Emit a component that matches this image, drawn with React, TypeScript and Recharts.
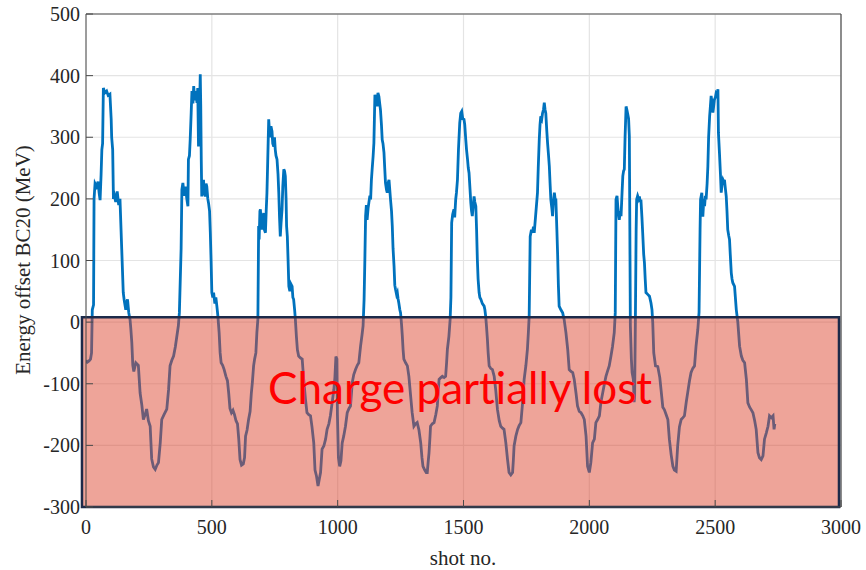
import { CartesianGrid, Line, LineChart, ReferenceArea, ReferenceLine, XAxis, YAxis } from "recharts";

// [shot no., energy offset (MeV)], one array per oscillation
const cycle1: [number, number][] = [
  [0, -62], [5, -65], [12, -63], [18, -60], [22, -50], [25, 20], [30, 28], [32, 200], [36, 225], [42, 220],
  [48, 228], [52, 210], [56, 198], [60, 240], [63, 280], [66, 290], [69, 380], [75, 372], [82, 375], [88, 368],
  [95, 370], [100, 330], [102, 300], [106, 280], [109, 200], [113, 205], [118, 195], [124, 212], [130, 190],
  [135, 200], [142, 118], [148, 48], [152, 35], [158, 20], [165, 37], [170, 15], [175, 4], [178, -10],
  [182, -33], [186, -70], [190, -80], [198, -66], [208, -70], [215, -115], [222, -135], [228, -158],
  [235, -150], [241, -141], [248, -160], [255, -169], [261, -222], [268, -235], [275, -239], [282, -232],
  [288, -228], [295, -196], [301, -158], [310, -150], [321, -141], [328, -110], [334, -71], [341, -62],
  [348, -55], [355, -40], [362, -20], [367, -6], [371, 15],
];

const cycle2: [number, number][] = [
  [378, 120], [381, 215], [385, 226], [390, 205], [395, 220], [401, 199], [405, 188], [407, 264], [411, 270],
  [414, 296], [418, 340], [421, 375], [425, 355], [428, 383], [432, 360], [436, 375], [441, 356], [444, 380],
  [447, 285], [450, 320], [454, 402], [456, 350], [458, 264], [460, 204], [464, 215], [467, 231], [470, 210],
  [474, 204], [477, 225], [480, 220], [484, 200], [487, 193], [491, 180], [494, 145], [497, 100], [500, 48],
  [504, 40], [507, 48], [512, 30], [516, 40], [520, 26], [524, 10], [529, -17], [533, -50], [537, -66],
  [543, -70], [549, -77], [556, -88], [562, -95], [567, -115], [572, -140], [578, -147], [584, -143],
  [590, -150], [596, -160], [602, -165], [607, -190], [612, -223], [618, -232], [625, -230], [630, -220],
  [634, -185], [640, -175], [646, -158], [652, -145], [657, -115], [661, -98], [666, -71], [670, -60],
  [675, -50], [679, -17], [683, 5],
];

const cycle3: [number, number][] = [
  [686, 156], [688, 134], [691, 180], [693, 183], [696, 160], [699, 150], [703, 170], [706, 177], [709, 150],
  [713, 145], [716, 180], [719, 210], [722, 260], [726, 329], [729, 310], [732, 300], [735, 318], [739, 310],
  [742, 290], [746, 285], [749, 300], [752, 280], [755, 270], [759, 264], [763, 240], [766, 210], [769, 170],
  [772, 139], [775, 160], [779, 183], [782, 220], [786, 248], [789, 245], [792, 237], [795, 200], [797, 156],
  [800, 139], [803, 100], [806, 58], [810, 50], [814, 62], [819, 58], [822, 40], [825, 37], [829, 20],
  [832, 4], [836, -23], [840, -45], [845, -55], [852, -58], [859, -60], [865, -93], [872, -125], [878, -147],
  [885, -150], [892, -152], [898, -170], [905, -196], [910, -240], [916, -250], [922, -266], [927, -255],
  [932, -244], [938, -206], [945, -201], [952, -190], [958, -174], [965, -165], [971, -152], [978, -131],
  [985, -109], [989, -90], [993, -56], [997, -60], [999, -150], [1003, -220], [1008, -234], [1013, -225],
  [1018, -196], [1024, -185], [1031, -169], [1038, -147], [1045, -140], [1051, -136], [1058, -98],
  [1064, -85], [1071, -77], [1078, -70], [1084, -66], [1091, -39], [1097, -20], [1101, -6], [1105, 37],
];

const cycle4: [number, number][] = [
  [1108, 100], [1111, 172], [1114, 190], [1117, 166], [1121, 185], [1124, 194], [1128, 205], [1131, 199],
  [1134, 230], [1137, 248], [1141, 270], [1144, 291], [1146, 330], [1148, 369], [1151, 360], [1154, 365],
  [1157, 350], [1160, 372], [1164, 366], [1167, 355], [1170, 345], [1174, 320], [1177, 296], [1180, 290],
  [1184, 275], [1187, 250], [1190, 226], [1194, 215], [1197, 210], [1200, 225], [1204, 231], [1207, 215],
  [1210, 199], [1214, 180], [1217, 156], [1220, 120], [1224, 91], [1227, 60], [1230, 53], [1234, 45],
  [1237, 48], [1240, 38], [1243, 31], [1247, 20], [1250, 15], [1254, -5], [1257, -23], [1260, -45],
  [1263, -60], [1270, -66], [1277, -71], [1283, -88], [1290, -120], [1296, -147], [1303, -169], [1310, -165],
  [1316, -163], [1323, -175], [1330, -196], [1335, -220], [1339, -234], [1346, -240], [1352, -244],
  [1356, -244], [1360, -225], [1363, -212], [1367, -185], [1369, -169], [1376, -165], [1383, -163],
  [1390, -150], [1396, -136], [1400, -110], [1403, -93], [1410, -90], [1416, -88], [1423, -90], [1429, -88],
  [1433, -65], [1436, -44], [1442, -23], [1447, 5], [1450, 40],
];

const cycle5: [number, number][] = [
  [1453, 161], [1457, 175], [1462, 183], [1465, 170], [1469, 199], [1472, 210], [1476, 231], [1480, 280],
  [1485, 323], [1489, 339], [1493, 342], [1497, 330], [1502, 329], [1505, 320], [1509, 296], [1512, 280],
  [1516, 264], [1519, 250], [1522, 242], [1526, 215], [1529, 194], [1532, 180], [1535, 172], [1539, 190],
  [1542, 204], [1545, 195], [1549, 188], [1552, 150], [1555, 102], [1558, 70], [1562, 48], [1565, 40],
  [1569, 37], [1575, 30], [1582, 26], [1585, 20], [1588, 10], [1591, -5], [1595, -28], [1598, -50],
  [1602, -71], [1608, -75], [1615, -77], [1622, -88], [1628, -110], [1635, -142], [1642, -160], [1648, -169],
  [1655, -172], [1661, -174], [1668, -195], [1675, -223], [1681, -244], [1688, -248], [1695, -244],
  [1698, -225], [1701, -201], [1708, -185], [1715, -174], [1721, -168], [1728, -163], [1735, -130],
  [1741, -93], [1748, -70], [1754, -44], [1758, -15], [1761, 10],
];

const cycle6: [number, number][] = [
  [1765, 139], [1770, 150], [1774, 145], [1778, 155], [1781, 145], [1787, 175], [1794, 210], [1797, 250],
  [1801, 296], [1804, 320], [1807, 334], [1811, 330], [1814, 339], [1818, 345], [1821, 356], [1824, 345],
  [1827, 339], [1831, 310], [1834, 291], [1838, 270], [1841, 253], [1844, 225], [1847, 199], [1851, 185],
  [1854, 172], [1857, 195], [1861, 210], [1864, 200], [1867, 199], [1871, 150], [1874, 110], [1877, 60],
  [1880, 26], [1887, 20], [1894, 15], [1900, 4], [1907, -17], [1914, -44], [1920, -77], [1927, -80],
  [1934, -82], [1940, -93], [1947, -115], [1953, -136], [1960, -145], [1967, -147], [1974, -152],
  [1980, -158], [1987, -185], [1993, -234], [2000, -244], [2006, -228], [2013, -196], [2020, -190],
  [2026, -163], [2033, -158], [2040, -152], [2046, -130], [2053, -115], [2060, -100], [2066, -88],
  [2072, -80], [2079, -71], [2086, -55], [2092, -40], [2099, -17],
];

const cycle7: [number, number][] = [
  [2103, 15], [2106, 199], [2110, 205], [2113, 188], [2116, 175], [2119, 166], [2123, 180], [2126, 172],
  [2130, 210], [2133, 237], [2136, 245], [2139, 248], [2142, 300], [2146, 350], [2149, 345], [2152, 339],
  [2156, 330], [2159, 302], [2161, 150], [2163, -6], [2167, -60], [2170, -82], [2175, -93], [2178, -130],
  [2180, -120], [2183, 4], [2186, 150], [2188, 199], [2192, 205], [2196, 200], [2199, 204], [2202, 195],
  [2205, 199], [2209, 170], [2212, 145], [2216, 110], [2219, 96], [2222, 70], [2225, 48], [2232, 45],
  [2239, 42], [2245, 31], [2249, 20], [2252, -1], [2256, -50], [2263, -71], [2272, -72], [2280, -90],
  [2285, -110], [2292, -138], [2298, -142], [2305, -150], [2312, -158], [2318, -190], [2325, -215],
  [2332, -234], [2338, -240], [2345, -242], [2351, -201], [2358, -170], [2365, -158], [2372, -155],
  [2378, -152], [2385, -130], [2391, -114], [2398, -95], [2404, -82], [2411, -75], [2418, -71], [2424, -39],
  [2431, -12], [2436, 16],
];

const cycle8: [number, number][] = [
  [2440, 150], [2442, 199], [2447, 210], [2451, 171], [2455, 200], [2458, 188], [2461, 205], [2464, 199],
  [2468, 225], [2471, 253], [2474, 300], [2478, 334], [2481, 350], [2484, 367], [2488, 355], [2491, 340],
  [2494, 350], [2497, 361], [2501, 365], [2504, 372], [2508, 370], [2511, 378], [2513, 307], [2517, 275],
  [2521, 240], [2524, 210], [2528, 225], [2531, 231], [2534, 228], [2537, 231], [2541, 215], [2544, 204],
  [2547, 180], [2550, 150], [2554, 140], [2557, 134], [2560, 110], [2564, 80], [2567, 70], [2570, 64],
  [2577, 58], [2584, 20], [2590, 0], [2597, -39], [2604, -55], [2610, -62], [2617, -66], [2624, -93],
  [2630, -131], [2637, -138], [2643, -142], [2650, -147], [2657, -160], [2663, -174], [2670, -212],
  [2676, -220], [2683, -223], [2690, -217], [2696, -190], [2703, -180], [2710, -169], [2716, -152],
  [2723, -155], [2730, -152], [2734, -174], [2737, -165],
];

const xTicks = [0, 500, 1000, 1500, 2000, 2500, 3000];
const yTicks = [-300, -200, -100, 0, 100, 200, 300, 400, 500];

const data = [cycle1, cycle2, cycle3, cycle4, cycle5, cycle6, cycle7, cycle8]
  .flat()
  .map(([shot, offset]) => ({ shot, offset }));

const serif = "'Liberation Serif', 'Times New Roman', serif";
const tickStyle = { fontFamily: serif, fontSize: 20, fill: "#262626" };
const axisColor = "#4a4a4a";

export default function App() {
  return (
    <div style={{ position: "absolute", left: 0, top: 0, width: 866, height: 570, background: "#fff" }}>
      <LineChart
        width={866}
        height={570}
        data={data}
        margin={{ top: 14, right: 25, bottom: 0, left: 0 }}
      >
        <CartesianGrid
          xAxisId="b"
          yAxisId="l"
          stroke="#e4e4e4"
          strokeWidth={1.2}
          horizontalValues={yTicks}
          verticalValues={xTicks}
        />
        <XAxis
          xAxisId="b"
          dataKey="shot"
          type="number"
          domain={[0, 3000]}
          ticks={xTicks}
          height={63}
          tickSize={-7}
          tickMargin={20}
          tick={tickStyle}
          tickLine={{ stroke: axisColor }}
          stroke={axisColor}
          allowDataOverflow
        />
        <YAxis
          yAxisId="l"
          type="number"
          domain={[-300, 500]}
          ticks={yTicks}
          width={86}
          tickSize={-7}
          tickMargin={13}
          tick={tickStyle}
          tickLine={{ stroke: axisColor }}
          stroke={axisColor}
          allowDataOverflow
        />
        {/* box edges on the top and right, as the original axes frame */}
        <ReferenceLine xAxisId="b" yAxisId="l" y={500} stroke={axisColor} strokeWidth={1.2} />
        <ReferenceLine xAxisId="b" yAxisId="l" x={3000} stroke={axisColor} strokeWidth={1.2} />
        <Line
          xAxisId="b"
          yAxisId="l"
          type="linear"
          dataKey="offset"
          stroke="#0072BD"
          strokeWidth={2.8}
          dot={false}
          isAnimationActive={false}
        />
        <ReferenceArea
          xAxisId="b"
          yAxisId="l"
          x1={-16}
          x2={2992}
          y1={-300}
          y2={8}
          ifOverflow="visible"
          fill="#DC462F"
          fillOpacity={0.49}
          stroke="#1c2a4a"
          strokeWidth={2.5}
          zIndex={450}
        />
      </LineChart>
      <svg
        width={866}
        height={570}
        style={{ position: "absolute", left: 0, top: 0, pointerEvents: "none" }}
      >
        <text
          x={268}
          y={404}
          fontFamily="Lato, 'Open Sans', sans-serif"
          fontSize={44}
          fill="#ff0000"
          textLength={384}
          lengthAdjust="spacingAndGlyphs"
        >
          Charge partially lost
        </text>
        <text
          x={463}
          y={565}
          textAnchor="middle"
          fontFamily={serif}
          fontSize={21}
          fill="#262626"
        >
          shot no.
        </text>
        <text
          transform="translate(30, 260) rotate(-90)"
          textAnchor="middle"
          fontFamily={serif}
          fontSize={21}
          fill="#262626"
        >
          Energy offset BC20 (MeV)
        </text>
      </svg>
    </div>
  );
}
